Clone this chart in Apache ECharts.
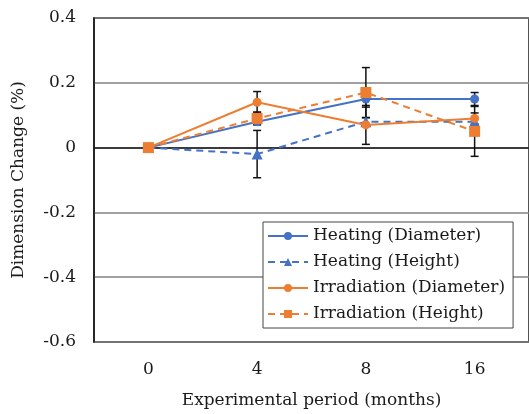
<!DOCTYPE html>
<html><head><meta charset="utf-8">
<script src="https://cdn.jsdelivr.net/npm/echarts@6/dist/echarts.min.js"></script>
<style>html,body{margin:0;padding:0;background:#fff}#c{width:529px;height:414px}</style>
</head><body><div id="c"></div>
<script>
const categories = ['0', '4', '8', '16'];
const seriesNames = ['Heating (Diameter)', 'Heating (Height)', 'Irradiation (Diameter)', 'Irradiation (Height)'];
const heatingDiameter = [0, 0.08, 0.15, 0.15];
const heatingDiameterErr = [0, 0.007, 0.025, 0.02];
const heatingHeight = [0, -0.02, 0.08, 0.08];
const heatingHeightErr = [0, 0.073, 0.012, 0.01];
const irrDiameter = [0, 0.14, 0.07, 0.09];
const irrDiameterErr = [0, 0.033, 0.06, 0.017];
const irrHeight = [0, 0.09, 0.17, 0.05];
const irrHeightErr = [0, 0.02, 0.077, 0.077];
const yMin = -0.6, yMax = 0.4, yStep = 0.2;

const BLUE = '#4472C4', ORANGE = '#ED7D31';
const FONT = 'DejaVu Serif';

function errData(vals, errs) {
  const out = [];
  vals.forEach((v, i) => { if (errs[i] > 0) out.push([i, v, errs[i]]); });
  return out;
}
const allErr = [].concat(
  errData(heatingDiameter, heatingDiameterErr),
  errData(heatingHeight, heatingHeightErr),
  errData(irrDiameter, irrDiameterErr),
  errData(irrHeight, irrHeightErr)
);

function lineSeries(name, data, color, dashed, symbol, size) {
  return {
    name: name, type: 'line', data: data, symbol: symbol, symbolSize: size,
    lineStyle: { color: color, width: 2, type: dashed ? [7, 5] : 'solid' },
    itemStyle: { color: color },
    z: 3, animation: false
  };
}

const chart = echarts.init(document.getElementById('c'), null, { renderer: 'canvas' });
chart.setOption({
  animation: false,
  backgroundColor: '#fff',
  grid: { left: 94, right: -5, top: 18, bottom: 71, show: true, borderColor: '#1a1a1a', borderWidth: 1.5, backgroundColor: 'transparent' },
  xAxis: {
    type: 'category', data: categories, boundaryGap: true,
    name: 'Experimental period (months)', nameLocation: 'middle', nameGap: 50,
    nameTextStyle: { fontFamily: FONT, fontSize: 17, color: '#1a1a1a' },
    axisLine: { show: true, lineStyle: { color: '#1a1a1a', width: 1.5 } },
    axisTick: { show: false },
    axisLabel: { fontFamily: FONT, fontSize: 17, color: '#1a1a1a', margin: 19 },
    splitLine: { show: false }
  },
  yAxis: {
    type: 'value', min: yMin, max: yMax, interval: yStep,
    name: 'Dimension Change (%)', nameLocation: 'middle', nameGap: 67,
    nameTextStyle: { fontFamily: FONT, fontSize: 17, color: '#1a1a1a' },
    axisLine: { show: true, lineStyle: { color: '#1a1a1a', width: 1.5 } },
    axisTick: { show: false },
    axisLabel: { fontFamily: FONT, fontSize: 17, color: '#1a1a1a', margin: 18,
      formatter: v => { const r = Math.round(v * 10) / 10; return r === 0 ? '0' : r.toFixed(1); } },
    splitLine: { show: true, lineStyle: { color: '#808080', width: 1.5 } }
  },
  legend: {
    orient: 'vertical', left: 263, top: 222,
    data: seriesNames,
    backgroundColor: '#fff', borderColor: '#444', borderWidth: 1,
    padding: [4, 8, 4, 4], itemGap: 6, itemWidth: 40, itemHeight: 10,
    textStyle: { fontFamily: FONT, fontSize: 17, color: '#1a1a1a', lineHeight: 20, padding: [0, 0, 0, 0] }
  },
  series: [
    {
      type: 'custom', name: 'err', data: allErr, z: 2, silent: true,
      renderItem: function (params, api) {
        const x = api.value(0), v = api.value(1), e = api.value(2);
        const top = api.coord([x, v + e]);
        const bot = api.coord([x, v - e]);
        const style = { stroke: '#111', lineWidth: 1.5 };
        return { type: 'group', children: [
          { type: 'line', shape: { x1: top[0], y1: top[1], x2: bot[0], y2: bot[1] }, style: style },
          { type: 'line', shape: { x1: top[0] - 4, y1: top[1], x2: top[0] + 4, y2: top[1] }, style: style },
          { type: 'line', shape: { x1: bot[0] - 4, y1: bot[1], x2: bot[0] + 4, y2: bot[1] }, style: style }
        ] };
      }
    },
    lineSeries(seriesNames[0], heatingDiameter, BLUE, false, 'circle', 9),
    lineSeries(seriesNames[1], heatingHeight, BLUE, true, 'triangle', 11),
    lineSeries(seriesNames[2], irrDiameter, ORANGE, false, 'circle', 9),
    lineSeries(seriesNames[3], irrHeight, ORANGE, true, 'rect', 11)
  ]
});
</script></body></html>
